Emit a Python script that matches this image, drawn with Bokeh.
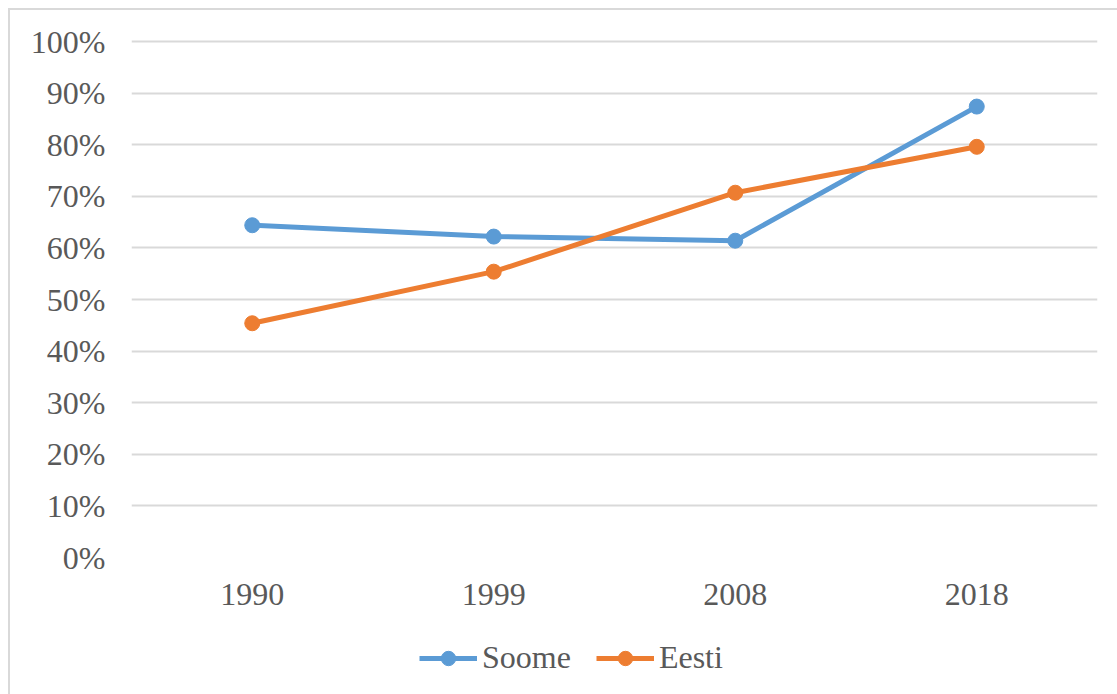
from bokeh.plotting import figure
from bokeh.layouts import column
from bokeh.models import Range1d, FactorRange, Legend, LegendItem, NumeralTickFormatter, SingleIntervalTicker
from bokeh.embed import file_html
from bokeh.resources import INLINE

years = ["1990", "1999", "2008", "2018"]
soome = [0.644, 0.622, 0.614, 0.874]
eesti = [0.454, 0.554, 0.707, 0.796]
series_names = ["Soome", "Eesti"]

BLUE = "#5B9BD5"
ORANGE = "#ED7D31"
FONT = "Liberation Serif"
TXT = "#595959"
GRID = "#d9d9d9"

# main chart
p = figure(width=1117, height=624, output_backend="svg", toolbar_location=None,
           x_range=FactorRange(*years, range_padding=0), y_range=Range1d(0, 1.004),
           min_border_left=131, min_border_right=20, min_border_top=39, min_border_bottom=67)
p.outline_line_color = None
p.border_fill_alpha = 0
p.styles = {
    "background": "linear-gradient(#d9d9d9,#d9d9d9) 8px 8px / 2px 100% no-repeat, "
                  "linear-gradient(#d9d9d9,#d9d9d9) 8px 8px / 100% 2px no-repeat, white"
}

p.line(years, soome, line_color=BLUE, line_width=5)
p.scatter(years, soome, size=15, fill_color=BLUE, line_color=BLUE)
p.line(years, eesti, line_color=ORANGE, line_width=5)
p.scatter(years, eesti, size=15, fill_color=ORANGE, line_color=ORANGE)

p.yaxis.ticker = SingleIntervalTicker(interval=0.1)
p.yaxis.formatter = NumeralTickFormatter(format="0%")
for ax in (p.xaxis, p.yaxis):
    ax.axis_line_color = None
    ax.major_tick_line_color = None
    ax.minor_tick_line_color = None
    ax.major_label_text_font = FONT
    ax.major_label_text_font_size = "32px"
    ax.major_label_text_color = TXT
p.yaxis.major_label_standoff = 20
p.xaxis.major_label_standoff = 20

p.xgrid.grid_line_color = None
p.ygrid.grid_line_color = GRID
p.ygrid.grid_line_width = 2

# legend strip (same series, drawn outside its visible range; only the legend shows)
q = figure(width=1117, height=70, output_backend="svg", toolbar_location=None,
           x_range=FactorRange(*years, range_padding=0), y_range=Range1d(10, 11),
           x_axis_type=None, y_axis_type=None,
           min_border_left=0, min_border_right=0, min_border_top=0, min_border_bottom=0)
q.outline_line_color = None
q.border_fill_alpha = 0
q.background_fill_alpha = 0
q.xgrid.visible = False
q.ygrid.visible = False
q.styles = {"background": "linear-gradient(#d9d9d9,#d9d9d9) 8px 0 / 2px 100% no-repeat, white"}

l1 = q.line(years, soome, line_color=BLUE, line_width=5)
s1 = q.scatter(years, soome, size=15, fill_color=BLUE, line_color=BLUE)
l2 = q.line(years, eesti, line_color=ORANGE, line_width=5)
s2 = q.scatter(years, eesti, size=15, fill_color=ORANGE, line_color=ORANGE)

legend = Legend(items=[LegendItem(label=series_names[0], renderers=[l1, s1]),
                       LegendItem(label=series_names[1], renderers=[l2, s2])],
                orientation="horizontal", location=(288, 18),
                glyph_width=58, glyph_height=36, label_text_font=FONT,
                label_text_font_size="32px", label_text_color=TXT,
                label_standoff=5, spacing=25, border_line_color=None,
                background_fill_alpha=0, padding=0, margin=0)
q.add_layout(legend, "center")

layout = column(p, q, spacing=0)
open("out.html", "w").write(file_html(layout, INLINE))
